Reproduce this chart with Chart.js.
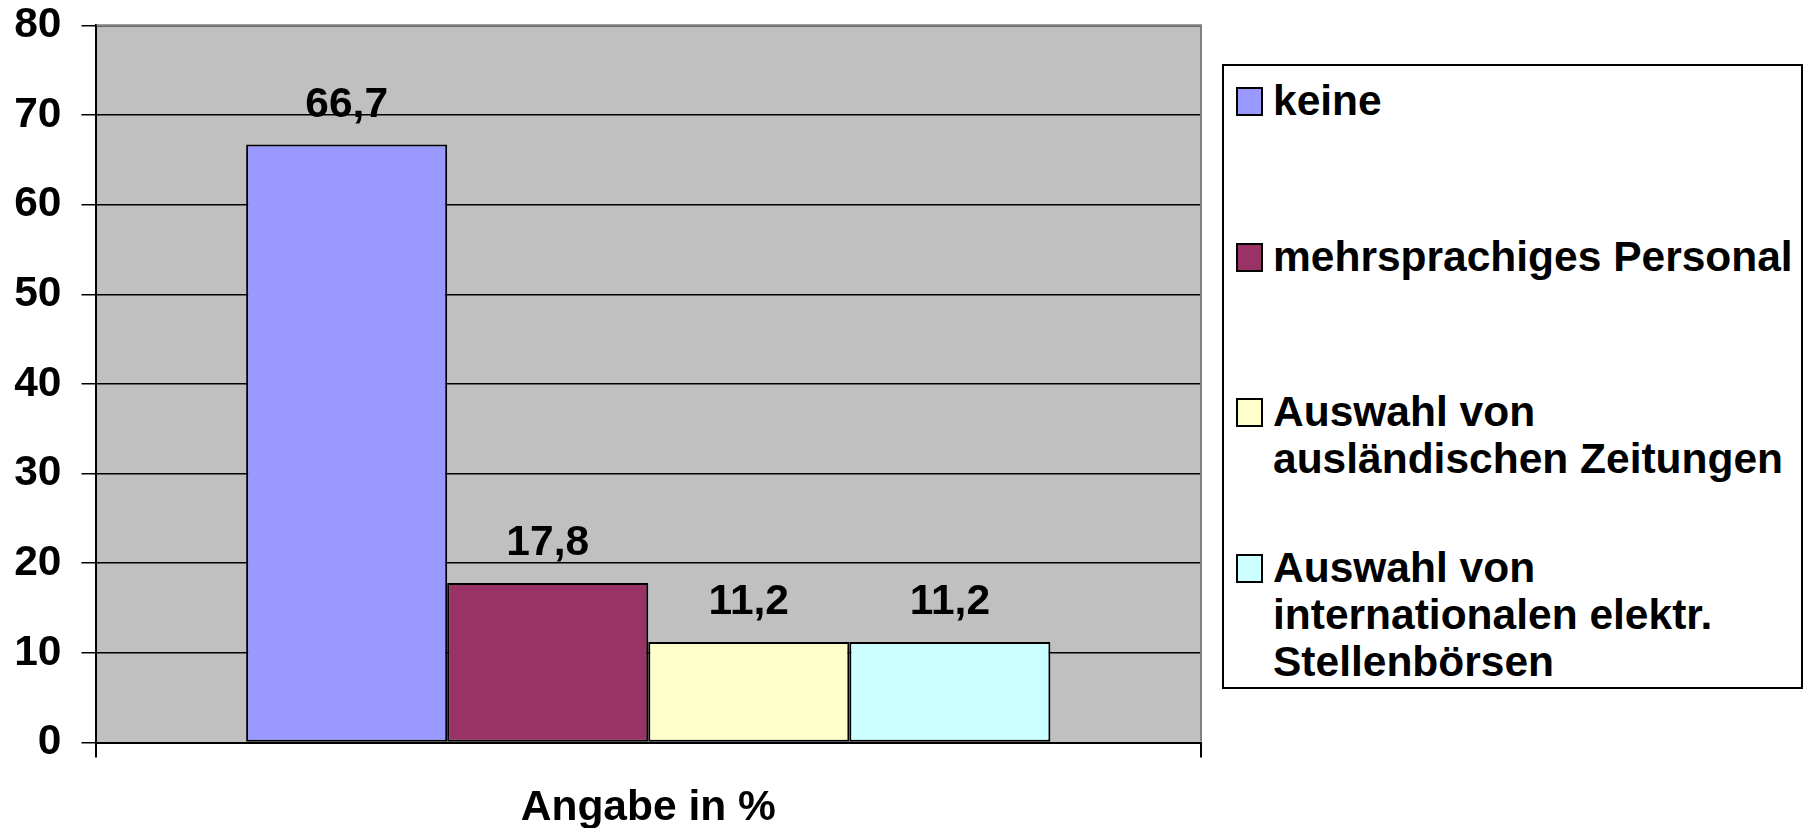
<!DOCTYPE html>
<html lang="de">
<head>
<meta charset="utf-8">
<title>Angabe in %</title>
<script src="https://cdn.jsdelivr.net/npm/chart.js@4/dist/chart.umd.min.js"></script>
<style>
  body { margin: 0; background: #fff; font-family: "Liberation Sans", Arial, sans-serif; }
  #wrap { position: relative; width: 1805px; height: 828px; }
  #legend {
    position: absolute; left: 1222px; top: 64px; width: 577px; height: 621px;
    border: 2px solid #000; background: #fff;
  }
  .item { position: absolute; left: 12px; font-weight: bold; font-size: 42.5px; line-height: 47px; color: #000; }
  .swatch { position: absolute; left: 0; top: 10px; width: 23px; height: 25px; border: 2px solid #000; }
  .label { margin-left: 37px; white-space: nowrap; }
</style>
</head>
<body>
<div id="wrap">
  <canvas id="chart" width="1805" height="828"></canvas>
  <div id="legend"></div>
</div>
<script>
const categories = ['Angabe in %'];
const seriesNames = [
  ['keine'],
  ['mehrsprachiges Personal'],
  ['Auswahl von', 'ausländischen Zeitungen'],
  ['Auswahl von', 'internationalen elektr.', 'Stellenbörsen']
];
const seriesValues = [66.7, 17.8, 11.2, 11.2];
const seriesColors = ['#9999FF', '#993366', '#FFFFCC', '#CCFFFF'];
const yTicks = [0, 10, 20, 30, 40, 50, 60, 70, 80];

const FONT = '"Liberation Sans", Arial, sans-serif';
const FONT_SIZE = 42.5;

// grey plot background + grey top/right frame
const plotFrame = {
  id: 'plotFrame',
  beforeDraw(chart) {
    const { ctx, chartArea: a } = chart;
    ctx.save();
    ctx.fillStyle = '#C0C0C0';
    ctx.fillRect(a.left, a.top, a.right - a.left, a.bottom - a.top);
    ctx.restore();
  },
  afterDraw(chart) {
    const { ctx, chartArea: a } = chart;
    ctx.save();
    ctx.strokeStyle = '#808080';
    ctx.lineWidth = 2;
    ctx.beginPath();
    ctx.moveTo(a.left + 1, a.top);
    ctx.lineTo(a.right, a.top);
    ctx.lineTo(a.right, a.bottom - 1);
    ctx.stroke();
    ctx.restore();
  }
};

// value labels above the bars
const valueLabels = {
  id: 'valueLabels',
  afterDatasetsDraw(chart) {
    const { ctx } = chart;
    ctx.save();
    ctx.font = 'bold ' + FONT_SIZE + 'px ' + FONT;
    ctx.fillStyle = '#000';
    ctx.textAlign = 'center';
    ctx.textBaseline = 'alphabetic';
    chart.data.datasets.forEach((ds, i) => {
      const bar = chart.getDatasetMeta(i).data[0];
      ctx.fillText(String(ds.data[0]).replace('.', ','), bar.x, bar.y - 28);
    });
    ctx.restore();
  }
};

new Chart(document.getElementById('chart'), {
  type: 'bar',
  data: {
    labels: categories,
    datasets: seriesValues.map((v, i) => ({
      label: seriesNames[i].join(' '),
      data: [v],
      backgroundColor: seriesColors[i],
      borderColor: '#000',
      borderWidth: 2,
      borderSkipped: false,
      categoryPercentage: 0.7275,
      barPercentage: 1
    }))
  },
  options: {
    responsive: false,
    animation: false,
    layout: { padding: { top: 25.3, right: 604, left: 0, bottom: 0 } },
    plugins: { legend: { display: false }, tooltip: { enabled: false } },
    scales: {
      x: {
        grid: { display: true, drawOnChartArea: false, color: '#000', lineWidth: 2, tickLength: 15 },
        border: { display: true, color: '#000', width: 2 },
        ticks: { color: '#000', font: { family: FONT, size: FONT_SIZE, weight: 'bold' }, padding: 25 },
        afterFit(scale) {
          scale.height = 85.5;
          scale.paddingLeft = 0;
          scale.paddingRight = 0;
        }
      },
      y: {
        min: 0,
        max: 80,
        afterBuildTicks(scale) { scale.ticks = yTicks.map(v => ({ value: v })); },
        grid: { color: '#000', lineWidth: 1.5, tickLength: 14 },
        border: { display: true, color: '#000', width: 2 },
        ticks: { color: '#000', font: { family: FONT, size: FONT_SIZE, weight: 'bold' }, padding: 20 },
        afterFit(scale) {
          scale.width = 95.5;
          scale.paddingTop = 0;
          scale.paddingBottom = 0;
        }
      }
    }
  },
  plugins: [plotFrame, valueLabels]
});

// legend built from the same arrays
const legend = document.getElementById('legend');
seriesNames.forEach((lines, i) => {
  const item = document.createElement('div');
  item.className = 'item';
  item.style.top = (11 + i * 155.5) + 'px';
  item.innerHTML = `<div class="swatch" style="background:${seriesColors[i]}"></div>` +
    `<div class="label">${lines.join('<br>')}</div>`;
  legend.appendChild(item);
});
</script>
</body>
</html>
